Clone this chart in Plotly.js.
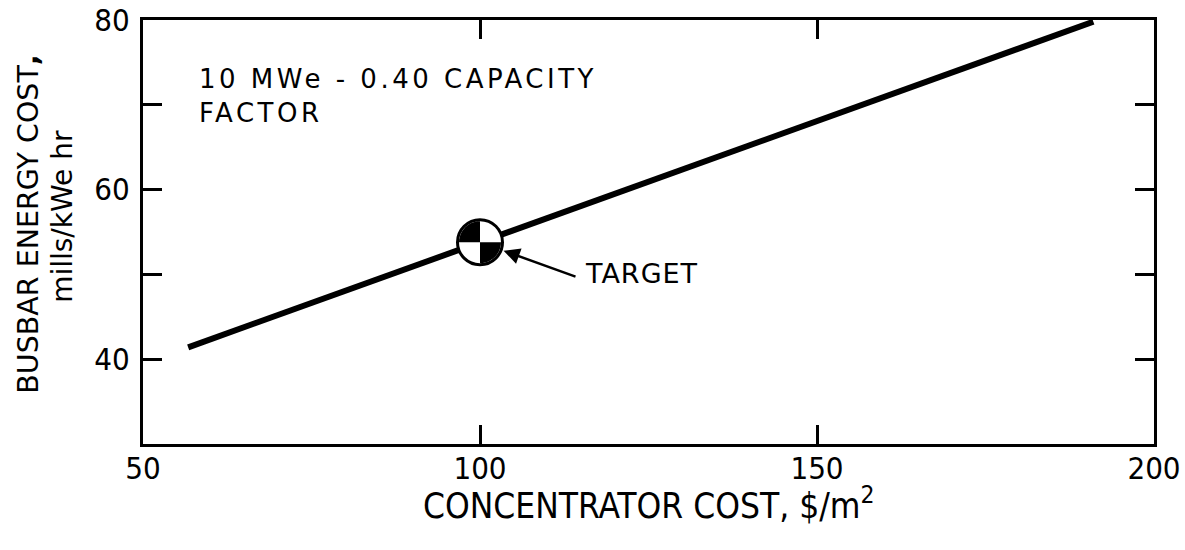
<!DOCTYPE html>
<html>
<head>
<meta charset="utf-8">
<script src="https://cdn.plot.ly/plotly-3.0.1.min.js"></script>
<style>
html,body{margin:0;padding:0;background:#fff;}
#chart{width:1185px;height:550px;}
#chart .annotation[data-index="0"] .annotation-text{letter-spacing:3.5px;}
#chart .annotation[data-index="1"] .annotation-text{letter-spacing:1px;}
</style>
</head>
<body>
<div id="chart"></div>
<script>
// Data
const concentratorCost = [56.7, 100, 191];      // $/m^2
const busbarCost = [41.4, 53.8, 79.8];           // mills/kWe hr
const targetX = [100];
const targetY = [53.8];
const xTickVals = [50, 100, 150, 200];
const xTickText = ['50', '100', '150', '200'];
const yTickVals = [30, 40, 50, 60, 70, 80];
const yTickText = ['', '40', '', '60', '', '80'];

const FONT = '"Liberation Sans Narrow", "DejaVu Sans Condensed", "Liberation Sans", sans-serif';
const FONT2 = '"DejaVu Sans", "Liberation Sans", sans-serif';

// quarter-disc helper (pixel offsets around the target marker)
function quarter(a0, a1, r) {
  let p = 'M0,0';
  for (let i = 0; i <= 12; i++) {
    const a = (a0 + (a1 - a0) * i / 12) * Math.PI / 180;
    p += ' L' + (r * Math.cos(a)).toFixed(2) + ',' + (r * Math.sin(a)).toFixed(2);
  }
  return p + ' Z';
}
const R = 21;

const traces = [
  {
    x: concentratorCost, y: busbarCost, mode: 'lines', type: 'scatter',
    line: {color: '#000', width: 6}, hoverinfo: 'skip'
  },
  {
    x: targetX, y: targetY, mode: 'markers', type: 'scatter',
    marker: {symbol: 'circle', size: 45, color: '#fff', line: {color: '#000', width: 3}},
    hoverinfo: 'skip'
  }
];

const axisCommon = {
  showline: true, linecolor: '#000', linewidth: 3, mirror: 'ticks',
  ticks: 'inside', ticklen: 19, tickwidth: 3, tickcolor: '#000',
  showgrid: false, zeroline: false, fixedrange: true,
  tickfont: {family: FONT, size: 31, color: '#000'}
};

const layout = {
  width: 1185, height: 550,
  margin: {l: 143, r: 31, t: 20, b: 106},
  paper_bgcolor: '#fff', plot_bgcolor: '#fff',
  showlegend: false,
  xaxis: Object.assign({}, axisCommon, {
    range: [50, 200], tickmode: 'array', tickvals: xTickVals, ticktext: xTickText,
    ticklabelstandoff: -5
  }),
  yaxis: Object.assign({}, axisCommon, {
    range: [30, 80], tickmode: 'array', tickvals: yTickVals, ticktext: yTickText,
    ticklabelstandoff: 4
  }),
  shapes: [
    {type: 'path', xref: 'x', yref: 'y', xsizemode: 'pixel', ysizemode: 'pixel',
     xanchor: targetX[0], yanchor: targetY[0], path: quarter(90, 180, R),
     fillcolor: '#000', line: {width: 0}, layer: 'above'},
    {type: 'path', xref: 'x', yref: 'y', xsizemode: 'pixel', ysizemode: 'pixel',
     xanchor: targetX[0], yanchor: targetY[0], path: quarter(270, 360, R),
     fillcolor: '#000', line: {width: 0}, layer: 'above'}
  ],
  annotations: [
    {xref: 'paper', yref: 'paper', x: 0.053, y: 0.9, xanchor: 'left', yanchor: 'top', align: 'left',
     showarrow: false, text: '10 MWe - 0.40 CAPACITY<br>FACTOR',
     font: {family: FONT2, size: 26, color: '#000'}},
    {xref: 'x', yref: 'y', x: targetX[0], y: targetY[0], showarrow: false, text: 'TARGET',
     xanchor: 'left', yanchor: 'middle', xshift: 106, yshift: -31,
     font: {family: FONT2, size: 27, color: '#000'}},
    {xref: 'x', yref: 'y', x: targetX[0], y: targetY[0], text: '', showarrow: true,
     ax: 97, ay: 35, axref: 'pixel', ayref: 'pixel', arrowhead: 2, arrowsize: 1.3, arrowwidth: 2.5,
     arrowcolor: '#000', standoff: 25},
    {xref: 'paper', yref: 'paper', x: -0.113, y: 0.519, xanchor: 'center', yanchor: 'middle',
     textangle: -90, showarrow: false, text: 'BUSBAR ENERGY COST<b>,</b>',
     font: {family: FONT2, size: 28.5, color: '#000'}},
    {xref: 'paper', yref: 'paper', x: -0.079, y: 0.536, xanchor: 'center', yanchor: 'middle',
     textangle: -90, showarrow: false, text: 'mills/kWe hr',
     font: {family: FONT2, size: 28, color: '#000'}},
    {xref: 'paper', yref: 'paper', x: 0.5, y: -0.081, xanchor: 'center', yanchor: 'top',
     showarrow: false, text: 'CONCENTRATOR COST, $/m<sup>2</sup>',
     font: {family: FONT, size: 35, color: '#000'}}
  ]
};

Plotly.newPlot('chart', traces, layout, {displayModeBar: false, staticPlot: true});
</script>
</body>
</html>
